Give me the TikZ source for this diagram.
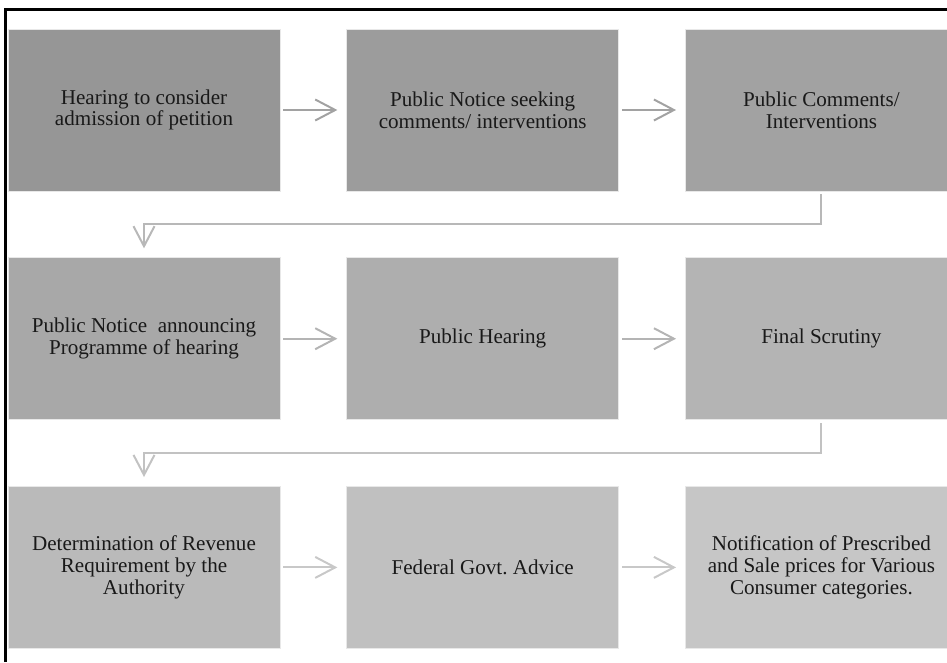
\documentclass[tikz,border=0pt]{standalone}
\usepackage{fontspec}
\setmainfont{Liberation Serif}
\usetikzlibrary{positioning,arrows.meta,calc}

\definecolor{tone1}{RGB}{150,150,150}
\definecolor{tone2}{RGB}{156,156,156}
\definecolor{tone3}{RGB}{162,162,162}
\definecolor{tone4}{RGB}{168,168,168}
\definecolor{tone5}{RGB}{174,174,174}
\definecolor{tone6}{RGB}{180,180,180}
\definecolor{tone7}{RGB}{186,186,186}
\definecolor{tone8}{RGB}{192,192,192}
\definecolor{tone9}{RGB}{198,198,198}
\definecolor{rimgray}{RGB}{232,232,232}
\definecolor{flowa}{RGB}{162,162,162}
\definecolor{flowb}{RGB}{180,180,180}
\definecolor{flowc}{RGB}{200,200,200}
\definecolor{turna}{RGB}{184,184,184}
\definecolor{turnb}{RGB}{194,194,194}

\begin{document}
\begin{tikzpicture}[
  every node/.style={inner sep=0pt},
  stage/.style={draw=rimgray, line width=0.6pt, minimum width=8.16cm,
    minimum height=4.86cm, align=center, text=black!90,
    font=\fontsize{18}{18.5}\selectfont},
  link/.style={-{Straight Barb[length=0.6cm,width=0.63cm]}, line width=1.7pt},
  turn/.style={link, rounded corners=0pt}
]
\useasboundingbox (0,0) rectangle (28.41,-19.86);

\draw[line width=0.09cm] (0.18,-19.86) -- (0.18,-0.27) -- (28.41,-0.27);

\node[stage, fill=tone1] (hearing) at (4.32,-3.3) {Hearing to consider\\admission of petition};
\node[stage, fill=tone2, right=1.98cm of hearing] (seeking) {Public Notice seeking\\comments/ interventions};
\node[stage, fill=tone3, right=1.98cm of seeking] (comments) {Public Comments/\\Interventions};

\node[stage, fill=tone4, below=1.98cm of hearing] (announce) {Public Notice~ announcing\\Programme of hearing};
\node[stage, fill=tone5, right=1.98cm of announce] (publichearing) {Public Hearing};
\node[stage, fill=tone6, right=1.98cm of publichearing] (scrutiny) {Final Scrutiny};

\node[stage, fill=tone7, below=1.98cm of announce] (revenue) {Determination of Revenue\\Requirement by the\\Authority};
\node[stage, fill=tone8, right=1.98cm of revenue] (advice) {Federal Govt.\ Advice};
\node[stage, fill=tone9, right=1.98cm of advice] (prices) {Notification of Prescribed\\and Sale prices for Various\\Consumer categories.};

\draw[link, flowa] ([xshift=0.09cm]hearing.east) -- ([xshift=-0.27cm]seeking.west);
\draw[link, flowa] ([xshift=0.09cm]seeking.east) -- ([xshift=-0.27cm]comments.west);
\draw[link, flowb] ([xshift=0.09cm]announce.east) -- ([xshift=-0.27cm]publichearing.west);
\draw[link, flowb] ([xshift=0.09cm]publichearing.east) -- ([xshift=-0.27cm]scrutiny.west);
\draw[link, flowc] ([xshift=0.09cm]revenue.east) -- ([xshift=-0.27cm]advice.west);
\draw[link, flowc] ([xshift=0.09cm]advice.east) -- ([xshift=-0.27cm]prices.west);

\draw[turn, turna] ([yshift=-0.09cm]comments.south) |- ($(comments.south)!.5!(announce.north)$)
  -| ([yshift=0.27cm]announce.north);
\draw[turn, turnb] ([yshift=-0.09cm]scrutiny.south) |- ($(scrutiny.south)!.5!(revenue.north)$)
  -| ([yshift=0.27cm]revenue.north);
\end{tikzpicture}
\end{document}
